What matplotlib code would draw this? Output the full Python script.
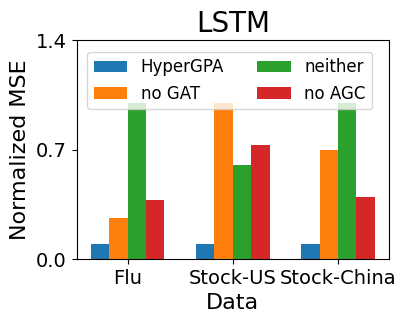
import numpy as np
import matplotlib
matplotlib.use("Agg")
import matplotlib.pyplot as plt

categories = ["Flu", "Stock-US", "Stock-China"]
series_names = ["HyperGPA", "no GAT", "neither", "no AGC"]
hypergpa = [0.1, 0.1, 0.1]
no_gat = [0.26, 1.0, 0.7]
neither = [1.0, 0.6, 1.0]
no_agc = [0.38, 0.73, 0.40]
yticks = [0.0, 0.7, 1.4]

values = [hypergpa, no_gat, neither, no_agc]
colors = ["#1f77b4", "#ff7f0e", "#2ca02c", "#d62728"]

fig, ax = plt.subplots(figsize=(4.07, 3.26), dpi=100)
fig.subplots_adjust(left=0.188, right=0.956, bottom=0.205, top=0.877)

x = np.arange(len(categories))
w = 0.175
for i, (name, vals) in enumerate(zip(series_names, values)):
    ax.bar(x + (i - 1.5) * w, vals, w, label=name, color=colors[i])

ax.set_xticks(x)
ax.set_xticklabels(categories)
ax.set_yticks(yticks)
ax.set_ylim(0, 1.4)
ax.tick_params(axis="both", labelsize=14)
ax.set_title("LSTM", fontsize=20)
ax.set_xlabel("Data", fontsize=16)
ax.set_ylabel("Normalized MSE", fontsize=16)
ax.legend(ncol=2, loc="upper center", bbox_to_anchor=(0.49, 0.985), fontsize=12)

fig.savefig("out.png")
